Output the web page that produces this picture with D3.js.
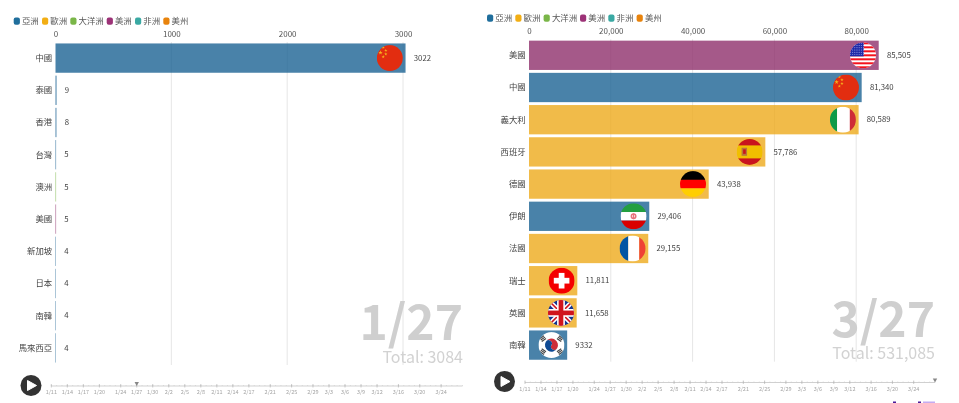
<!DOCTYPE html>
<html><head><meta charset="utf-8">
<script src="https://cdn.jsdelivr.net/npm/d3@7"></script>
<style>html,body{margin:0;padding:0;background:#fff;overflow:hidden}svg{display:block;filter:blur(0.3px)}
text{font-family:"Noto Sans CJK TC","Noto Sans",sans-serif}</style></head><body>
<div id="c"></div>
<script>
const legendNames=["亞洲","歐洲","大洋洲","美洲","非洲","美州"];
const legendColors=["#1f6e9c","#f2ae14","#7ab648","#9c3277","#3aa9a3","#e8830c"];
const barColors=["#1b6394","#eeaa1c","#7ab648","#8e2f6b","#3aa9a3","#e8830c"];
const leftNames=["中國","泰國","香港","台灣","澳洲","美國","新加坡","日本","南韓","馬來西亞"];
const leftValues=[3022,9,8,5,5,5,4,4,4,4];
const leftRegions=["亞洲","亞洲","亞洲","亞洲","大洋洲","美洲","亞洲","亞洲","亞洲","亞洲"];
const leftFlags=["cn",null,null,null,null,null,null,null,null,null];
const leftTicks=[0,1000,2000,3000];
const rightNames=["美國","中國","義大利","西班牙","德國","伊朗","法國","瑞士","英國","南韓"];
const rightValues=[85505,81340,80589,57786,43938,29406,29155,11811,11658,9332];
const rightRegions=["美洲","亞洲","歐洲","歐洲","歐洲","亞洲","歐洲","歐洲","歐洲","亞洲"];
const rightFlags=["us","cn","it","es","de","ir","fr","ch","gb","kr"];
const rightTicks=[0,20000,40000,60000,80000];
const timeLabels=["1/11","1/14","1/17","1/20","1/24","1/27","1/30","2/2","2/5","2/8","2/11","2/14","2/17","2/21","2/25","2/29","3/3","3/6","3/9","3/12","3/16","3/20","3/24"];
const timeStart="1/11",timeEnd="3/28";

const W=959,H=403;
const svg=d3.select("#c").append("svg").attr("width",W).attr("height",H);
const defs=svg.append("defs");
const regionColor=d3.scaleOrdinal(legendNames,barColors);
const parseD=d3.timeParse("%Y/%m/%d");
const day=s=>parseD("2020/"+s.split("/")[0]+"/"+s.split("/")[1]);
const valFormat=v=>v>=10000?d3.format(",")(v):String(v);
let uid=0;

function drawFlag(g,code,r){
  const id="clip"+(uid++);
  defs.append("clipPath").attr("id",id).append("circle").attr("r",r);
  const f=g.append("g").attr("clip-path",`url(#${id})`);
  const R=(x,y,w,h,c)=>f.append("rect").attr("x",x*r).attr("y",y*r).attr("width",w*r).attr("height",h*r).attr("fill",c);
  const star=(x,y,s,c)=>f.append("path").attr("d",d3.symbol(d3.symbolStar,s*r*r)()).attr("transform",`translate(${x*r},${y*r})`).attr("fill",c);
  if(code==="cn"){R(-1,-1,2,2,"#e22d10");
    star(-.72,-.42,.035,"#f5b21d");star(-.51,-.82,.02,"#f5b21d");star(-.31,-.59,.02,"#f5b21d");star(-.31,-.31,.02,"#f5b21d");star(-.51,-.1,.02,"#f5b21d");
  }
  if(code==="us"){R(-1,-1,2,2,"#fff");
    for(let i=0;i<7;i++)R(-1,-1+i*2*2/13,2,2/13,"#f4121d");
    R(-1,-1,1.05,1.08,"#1f2aa8");
    for(let a=0;a<6;a++)for(let b=0;b<8;b++)f.append("circle").attr("cx",(-.95+b*.14)*r).attr("cy",(-.92+a*.17)*r).attr("r",.035*r).attr("fill","#cfd6ff");
  }
  if(code==="it"){R(-1,-1,.56,2,"#0e9a48");R(-.45,-1,1,2,"#fff");R(.53,-1,.47,2,"#ce2b37");}
  if(code==="es"){R(-1,-1,2,2,"#f1bf00");R(-1,-1,2,.5,"#c9141e");R(-1,.5,2,.5,"#c9141e");
    R(-.62,-.32,.42,.62,"#b8763a");R(-.5,-.2,.2,.35,"#c9141e");}
  if(code==="de"){R(-1,-1,2,.68,"#000");R(-1,-.33,2,.67,"#f00");R(-1,.33,2,.67,"#ffce00");}
  if(code==="ir"){R(-1,-1,2,.68,"#239f40");R(-1,-.33,2,.66,"#fff");R(-1,.33,2,.67,"#da0000");
    f.append("circle").attr("r",.17*r).attr("fill","none").attr("stroke","#e8747c").attr("stroke-width",.12*r);R(-.05,-.22,.1,.44,"#e8747c");}
  if(code==="fr"){R(-1,-1,.68,2,"#0055a4");R(-.33,-1,.84,2,"#fff");R(.52,-1,.5,2,"#ef4135");}
  if(code==="ch"){R(-1,-1,2,2,"#f40000");R(-.22,-.6,.44,1.2,"#fff");R(-.6,-.22,1.2,.44,"#fff");}
  if(code==="gb"){R(-1,-1,2,2,"#12338f");
    [[[-1,-1],[1,1]],[[-1,1],[1,-1]]].forEach(l=>{
      f.append("line").attr("x1",l[0][0]*r).attr("y1",l[0][1]*r).attr("x2",l[1][0]*r).attr("y2",l[1][1]*r).attr("stroke","#fff").attr("stroke-width",.36*r);
      f.append("line").attr("x1",l[0][0]*r).attr("y1",l[0][1]*r).attr("x2",l[1][0]*r).attr("y2",l[1][1]*r).attr("stroke","#d0141c").attr("stroke-width",.12*r);});
    R(-.3,-1,.6,2,"#fff");R(-1,-.3,2,.6,"#fff");R(-.18,-1,.36,2,"#d0141c");R(-1,-.18,2,.36,"#d0141c");}
  if(code==="kr"){R(-1,-1,2,2,"#fff");
    const a=.5*r;
    f.append("path").attr("d",`M${-a*.87},${-a*.5}A${a},${a} 0 0 1 ${a*.87},${a*.5}A${a/2},${a/2} 0 0 1 0,0A${a/2},${a/2} 0 0 0 ${-a*.87},${-a*.5}Z`).attr("fill","#cd2e3a");
    f.append("path").attr("d",`M${-a*.87},${-a*.5}A${a},${a} 0 0 0 ${a*.87},${a*.5}A${a/2},${a/2} 0 0 1 0,0A${a/2},${a/2} 0 0 0 ${-a*.87},${-a*.5}Z`).attr("fill","#0f4a94");
    [[-.66,-.5,-35],[.66,-.5,35],[-.66,.5,35],[.66,.5,-35]].forEach(([x,y,rot])=>{
      const t=f.append("g").attr("transform",`translate(${x*r},${y*r}) rotate(${rot})`);
      [-.13,0,.13].forEach(d=>t.append("rect").attr("x",-.2*r).attr("y",(d-.045)*r).attr("width",.4*r).attr("height",.09*r).attr("fill","#444"));
    });}
}

function panel(o){
  const g=svg.append("g");
  const lg=g.append("g");
  let lx=o.legendX;
  legendNames.forEach((n,i)=>{
    lg.append("rect").attr("x",lx).attr("y",o.legendY-3.6).attr("width",6.2).attr("height",7.4).attr("rx",2).attr("fill",legendColors[i]);
    lg.append("text").attr("x",lx+8.3).attr("y",o.legendY).attr("dy","0.35em").attr("font-size",8.4).attr("fill","#555").text(n);
    lx+=n.length===3?36.4:28.3;
  });
  const x=d3.scaleLinear().domain([0,o.ticks[o.ticks.length-1]]).range([o.x0,o.xMax]);
  const y=d3.scaleBand().domain(o.names).range([o.top,o.top+o.step*10]).paddingInner(.09).paddingOuter(.045);
  const grid=g.append("g");
  grid.selectAll("line").data(o.ticks.slice(1)).join("line").attr("x1",x).attr("x2",x)
    .attr("y1",o.top).attr("y2",o.gridBottom).attr("stroke","#e6e6e6").attr("stroke-width",1);
  const axis=g.append("g").attr("transform",`translate(0,${o.top-2})`)
    .call(d3.axisTop(x).tickValues(o.ticks).tickSize(0).tickPadding(3).tickFormat(o.tickFmt));
  axis.select(".domain").remove();
  axis.selectAll("text").attr("font-size",8).attr("fill","#555").style("font-family",'"Noto Sans CJK TC"');
  const rows=o.names.map((n,i)=>({n,v:o.values[i],r:o.regions[i],f:o.flags[i]}));
  const bars=g.append("g");
  bars.selectAll("rect").data(rows).join("rect")
    .attr("x",x(0)).attr("y",d=>y(d.n)).attr("height",y.bandwidth())
    .attr("width",d=>x(d.v)-x(0))
    .attr("fill",d=>regionColor(d.r)).attr("fill-opacity",.8);
  g.append("g").selectAll("text").data(rows).join("text")
    .attr("x",o.x0-3.3).attr("y",d=>y(d.n)+y.bandwidth()/2).attr("dy","0.35em").attr("text-anchor","end")
    .attr("font-size",8.4).attr("fill","#444").text(d=>d.n);
  g.append("g").selectAll("text").data(rows).join("text")
    .attr("x",d=>x(d.v)+8.2).attr("y",d=>y(d.n)+y.bandwidth()/2).attr("dy","0.35em")
    .attr("font-size",7.8).attr("fill","#444").text(d=>valFormat(d.v));
  rows.filter(d=>d.f).forEach(d=>{
    const fg=g.append("g").attr("transform",`translate(${x(d.v)-15.7},${y(d.n)+y.bandwidth()/2})`);
    drawFlag(fg,d.f,13);
  });
  g.append("text").attr("x",o.right).attr("y",o.dateY).attr("text-anchor","end").attr("font-size",48).attr("font-weight",700).attr("fill","#cfcfcf").text(o.date);
  g.append("text").attr("x",o.right).attr("y",o.totalY).attr("text-anchor","end").attr("font-size",16).attr("fill","#d2d2d2").text(o.total);
  g.append("circle").attr("cx",o.playX).attr("cy",o.playY).attr("r",10.5).attr("fill","#333");
  g.append("path").attr("d",d3.line()([[o.playX-3.5,o.playY-5],[o.playX+5.5,o.playY],[o.playX-3.5,o.playY+5]])+"Z").attr("fill","#fff").attr("stroke","#fff").attr("stroke-linejoin","round");
  const t=d3.scaleTime().domain([day(timeStart),day(timeEnd)]).range([o.tlX0,o.tlX1]);
  const tl=g.append("g");
  tl.append("line").attr("x1",o.tlX0).attr("x2",o.tlX1).attr("y1",o.tlY).attr("y2",o.tlY).attr("stroke","#bbb").attr("stroke-width",.7);
  tl.selectAll("line.m").data(d3.timeDay.range(day(timeStart),d3.timeDay.offset(day(timeEnd),1))).join("line").attr("class","m")
    .attr("x1",t).attr("x2",t).attr("y1",o.tlY-1).attr("y2",o.tlY).attr("stroke","#ccc").attr("stroke-width",.6);
  tl.selectAll("line.l").data(timeLabels).join("line").attr("class","l")
    .attr("x1",d=>t(day(d))).attr("x2",d=>t(day(d))).attr("y1",o.tlY-2).attr("y2",o.tlY+1.5).attr("stroke","#aaa").attr("stroke-width",.6);
  tl.selectAll("text").data(timeLabels).join("text")
    .attr("x",d=>t(day(d))).attr("y",o.tlY+6.3).attr("dy","0.35em").attr("text-anchor","middle")
    .attr("font-size",5.5).attr("fill","#a5a5a5").text(d=>d);
  const mx=t(day(o.marker));
  tl.append("path").attr("d",d3.line()([[mx-2.2,o.tlY-4],[mx+2.2,o.tlY-4],[mx,o.tlY]])+"Z").attr("fill","#888");
}

panel({legendX:13.7,legendY:21,x0:55.5,xMax:403,top:42,step:32.2,gridBottom:365,ticks:leftTicks,tickFmt:d3.format("d"),
  names:leftNames,values:leftValues,regions:leftRegions,flags:leftFlags,right:463,dateY:340,totalY:362.5,date:"1/27",total:"Total: 3084",
  playX:31,playY:385.5,tlX0:51.3,tlX1:462.5,tlY:386,marker:"1/27"});
panel({legendX:487,legendY:18,x0:529,xMax:856.2,top:39.2,step:32.2,gridBottom:361.7,ticks:rightTicks,tickFmt:d3.format(","),
  names:rightNames,values:rightValues,regions:rightRegions,flags:rightFlags,right:935,dateY:336.5,totalY:359,date:"3/27",total:"Total: 531,085",
  playX:504.5,playY:381.5,tlX0:525,tlX1:935,tlY:382.5,marker:"3/28"});
// cropped logo fragments at the bottom edge of the source image
svg.append("g").selectAll("rect").data([[893,3,"#4a1a9a"],[918,3,"#4a1a9a"],[923,12,"#c4abf2"]]).join("rect")
  .attr("x",d=>d[0]).attr("y",401.5).attr("width",d=>d[1]).attr("height",1.5).attr("fill",d=>d[2]);
</script></body></html>
